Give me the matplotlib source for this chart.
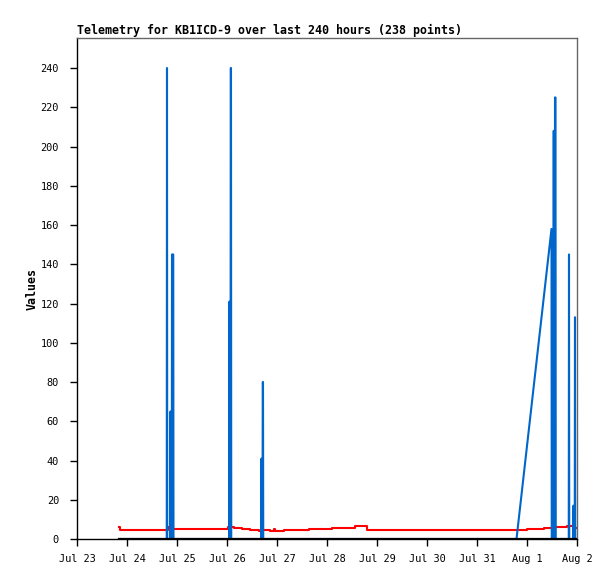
import matplotlib
matplotlib.use("Agg")
import matplotlib.pyplot as plt
import matplotlib.dates as mdates
from datetime import datetime, timedelta

# times are days after Jul 23 00:00
base = datetime(2012, 7, 23)

red_days = [0.84, 0.85, 1.82, 1.83, 3.02, 3.14, 3.29, 3.46, 3.63, 3.69, 3.86,
            3.93, 3.95, 4.13, 4.63, 5.09, 5.56, 5.79, 8.99, 9.34, 9.53, 9.79, 9.92, 10.0]
red_vals = [6.0, 4.4, 6.0, 5.3, 6.1, 5.6, 5.1, 4.6, 4.1, 4.8, 4.1,
            5.3, 4.3, 4.8, 5.3, 5.8, 6.4, 4.4, 5.0, 5.6, 5.9, 6.4, 5.8, 5.8]

blue_days = [0.84, 1.795, 1.80, 1.805, 1.865, 1.87, 1.875, 1.895, 1.90, 1.925, 1.93,
             3.045, 3.05, 3.055, 3.07, 3.075, 3.08, 3.085,
             3.685, 3.69, 3.695, 3.71, 3.715, 3.72, 3.725,
             8.79, 9.49, 9.495, 9.53, 9.535, 9.54, 9.555, 9.56, 9.57, 9.575,
             9.835, 9.84, 9.845, 9.925, 9.93, 9.935, 9.955, 9.96, 9.965, 10.0]
blue_vals = [0, 0, 240, 0, 0, 65, 0, 0, 145, 145, 0,
             0, 121, 0, 0, 240, 240, 0,
             0, 41, 0, 0, 80, 80, 0,
             0, 158, 0, 0, 208, 0, 0, 225, 225, 0,
             0, 145, 0, 0, 17, 0, 0, 113, 0, 0]

black_days = [0.84, 10.0]
black_vals = [0, 0]

title = "Telemetry for KB1ICD-9 over last 240 hours (238 points)"
ylabel = "Values"
yticks = list(range(0, 241, 20))

to_dates = lambda days: [base + timedelta(days=d) for d in days]

plt.rcParams["font.family"] = ["DejaVu Sans Mono"]

fig = plt.figure(figsize=(6.15, 5.79), dpi=100)
ax = fig.add_axes([77 / 615, 1 - 539 / 579, 500 / 615, 501 / 579])

ax.plot(to_dates(red_days), red_vals, color="#ff0000", lw=1.5, drawstyle="steps-post", zorder=2)
ax.plot(to_dates(blue_days), blue_vals, color="#0066cc", lw=1.5, zorder=3)
ax.plot(to_dates(black_days), black_vals, color="black", lw=1.6, zorder=4)

ax.set_xlim(base, base + timedelta(days=10))
ax.set_ylim(0, 255.3)
ax.set_yticks(yticks)
ax.xaxis.set_major_locator(mdates.DayLocator())
ax.xaxis.set_major_formatter(mdates.DateFormatter("%b %-d"))

ax.tick_params(direction="out", length=5, width=1, labelsize=7.4, colors="black")
ax.tick_params(axis="y", pad=8)
ax.tick_params(axis="x", pad=6)

for side in ("top", "right"):
    ax.spines[side].set_color("#666666")
for side in ("left", "bottom"):
    ax.spines[side].set_color("black")
for s in ax.spines.values():
    s.set_linewidth(1)

ax.set_title(title, loc="left", fontsize=8.4, fontweight="bold", pad=3)
ax.set_ylabel(ylabel, fontsize=8.4, fontweight="bold", labelpad=1.5)

fig.savefig("out.png", dpi=100)
